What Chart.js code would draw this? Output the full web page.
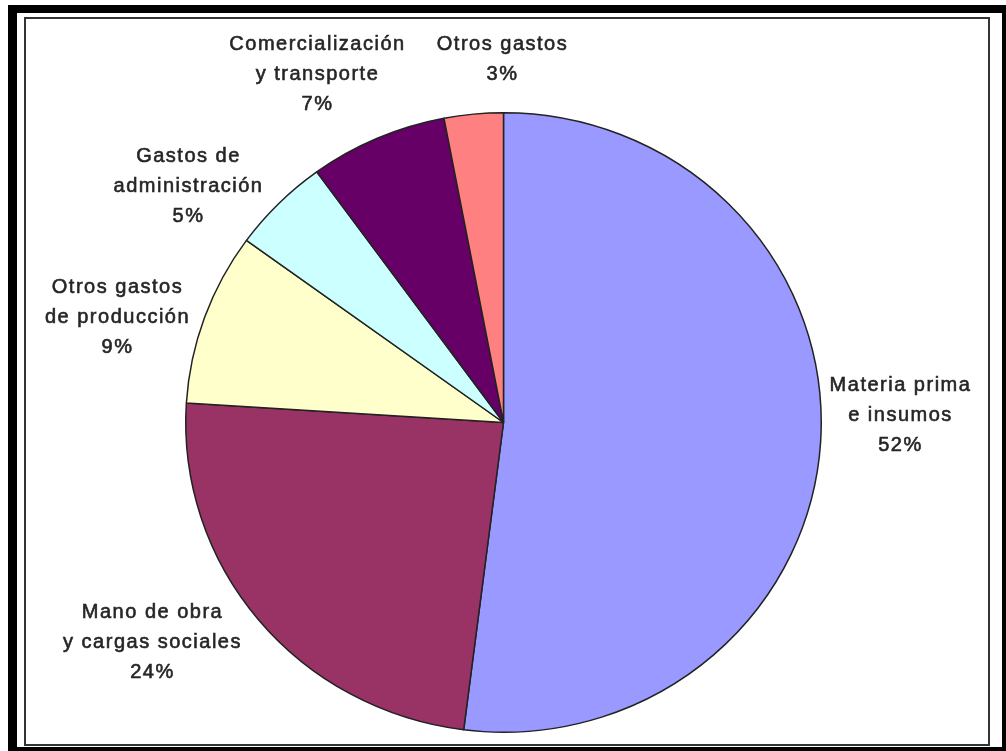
<!DOCTYPE html>
<html lang="es">

<head>
    <meta charset="UTF-8">
    <title>Estructura de costos</title>
    <script src="https://cdn.jsdelivr.net/npm/chart.js"></script>
    <style>
        html, body { margin: 0; padding: 0; background: #fff; }
        body { width: 1006px; height: 751px; position: relative; overflow: hidden; }
        #outer { position: absolute; left: 8px; top: 5px; width: 998px; height: 746px; background: #000; }
        #inner { position: absolute; left: 17px; top: 13px; width: 985px; height: 734px; background: #fff; }
        #box { position: absolute; left: 24px; top: 17px; width: 966px; height: 729px; border: 2px solid #333; box-sizing: border-box; }
        #costChart { position: absolute; left: 0; top: 0; }
    </style>
</head>

<body>
    <div id="outer"></div>
    <div id="inner"></div>
    <div id="box"></div>
    <canvas id="costChart" width="1006" height="751"></canvas>

    <script>
        // Cost breakdown, clockwise from 12 o'clock
        const categories = [
            ['Materia prima', 'e insumos'],
            ['Mano de obra', 'y cargas sociales'],
            ['Otros gastos', 'de producción'],
            ['Gastos de', 'administración'],
            ['Comercialización', 'y transporte'],
            ['Otros gastos']
        ];
        const shares = [52, 24, 9, 5, 7, 3];
        const sliceColors = ['#9999FF', '#993366', '#FFFFCC', '#CCFFFF', '#660066', '#FF8080'];

        // where each label's first line sits, relative to the pie centre
        const labelOffsets = [
            [396, -37], [-352, 190], [-387, -135],
            [-316, -266], [-187, -378], [-2, -378]
        ];
        const lineHeight = 30;
        const squash = 310 / 318; // pie is slightly wider than tall

        const ovalPie = {
            id: 'ovalPie',
            beforeDatasetsDraw(chart) {
                const arc = chart.getDatasetMeta(0).data[0];
                const ctx = chart.ctx;
                ctx.save();
                ctx.translate(arc.x, arc.y);
                ctx.scale(1, squash);
                ctx.translate(-arc.x, -arc.y);
            },
            afterDatasetsDraw(chart) {
                chart.ctx.restore();
            }
        };

        const sliceLabels = {
            id: 'sliceLabels',
            afterDraw(chart) {
                const ctx = chart.ctx;
                const arcs = chart.getDatasetMeta(0).data;
                const values = chart.data.datasets[0].data;
                const total = values.reduce((a, b) => a + b, 0);
                ctx.save();
                ctx.font = '20px "Liberation Sans", Arial, sans-serif';
                ctx.letterSpacing = '1.5px';
                ctx.fillStyle = '#262626';
                ctx.strokeStyle = '#262626';
                ctx.lineWidth = 0.6;
                ctx.textAlign = 'center';
                ctx.textBaseline = 'middle';
                arcs.forEach((arc, i) => {
                    const lines = chart.data.labels[i].concat(Math.round(values[i] / total * 100) + '%');
                    const x = arc.x + labelOffsets[i][0];
                    const y = arc.y + labelOffsets[i][1];
                    lines.forEach((t, j) => {
                        ctx.fillText(t, x + 1, y + j * lineHeight);
                        ctx.strokeText(t, x + 1, y + j * lineHeight);
                    });
                });
                ctx.restore();
            }
        };

        new Chart(document.getElementById('costChart'), {
            type: 'pie',
            data: {
                labels: categories,
                datasets: [{
                    data: shares,
                    backgroundColor: sliceColors,
                    borderColor: '#222',
                    borderWidth: 1.5,
                    hoverOffset: 0
                }]
            },
            options: {
                responsive: false,
                devicePixelRatio: 1,
                animation: false,
                layout: {
                    padding: { top: 104, bottom: 10, left: 150, right: 149 }
                },
                plugins: {
                    legend: { display: false },
                    tooltip: { enabled: false }
                }
            },
            plugins: [ovalPie, sliceLabels]
        });
    </script>
</body>

</html>
